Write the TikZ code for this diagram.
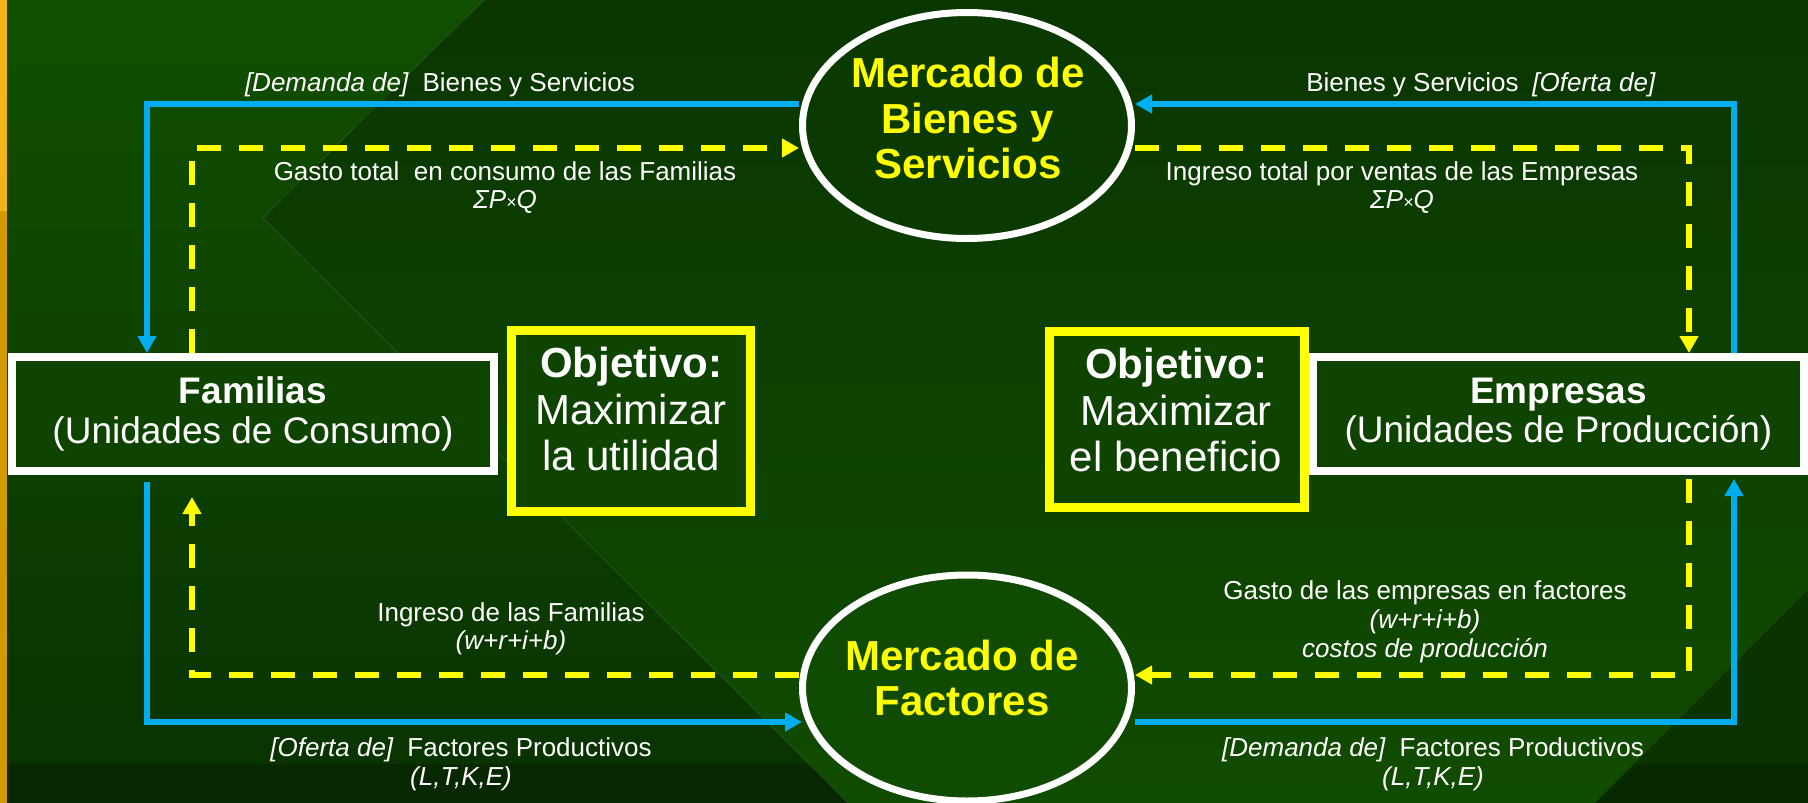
\documentclass[tikz,border=0pt]{standalone}
\usepackage{fontspec}
\setmainfont{Liberation Sans}
\usetikzlibrary{arrows.meta,shapes.geometric}
\definecolor{bgLtop}{HTML}{115000}
\definecolor{bgLbot}{HTML}{093200}
\definecolor{bgWtop}{HTML}{0A3600}
\definecolor{bgWbot}{HTML}{104C00}
\definecolor{bgT}{HTML}{0B3300}
\definecolor{barA}{HTML}{F2B416}
\definecolor{barB}{HTML}{D09A00}
\definecolor{cblue}{HTML}{00AEEF}
\definecolor{cyellow}{HTML}{FFFF00}
\definecolor{boxfill}{HTML}{0E4400}
\definecolor{topfill}{HTML}{0B3A00}
\definecolor{botfill}{HTML}{0F4B00}
\tikzset{
  bluearrow/.style={draw=cblue, line width=6pt, line join=miter, -{Triangle[length=17pt,width=18pt]}},
  ydasharrow/.style={draw=cyellow, line width=6.5pt, line join=miter, dash pattern=on 24pt off 18pt, -{Triangle[length=17pt,width=18pt]}},
  unitbox/.style={rectangle, draw=white, line width=8pt, fill=boxfill, inner sep=0pt, minimum height=114pt, text=white, align=center, font=\fontsize{37}{39.5}\selectfont},
  objbox/.style={rectangle, draw=cyellow, line width=9pt, fill=boxfill, inner sep=0pt},
  objtext/.style={text=white, align=center, inner sep=0pt, font=\fontsize{42}{46.5}\selectfont},
  market/.style={ellipse, draw=white, line width=7pt, inner sep=0pt, minimum width=329pt, minimum height=226pt},
  markettext/.style={text=cyellow, align=center, inner sep=0pt, font=\fontsize{42}{45.5}\selectfont\bfseries},
  lbl/.style={text=white, align=center, inner sep=0pt, font=\fontsize{26}{28.5}\selectfont},
}
\newcommand{\spq}{\textit{ΣP}{\fontsize{18}{20}\selectfont\textit{×}}\textit{Q}}
\begin{document}
\begin{tikzpicture}[x=1pt,y=-1pt]
\useasboundingbox (0,0) rectangle (1808,803);
% background
\shade[top color=bgLtop, bottom color=bgLbot] (0,0) -- (484,0) -- (263,218) -- (848,803) -- (0,803) -- cycle;
\shade[top color=bgWtop, bottom color=bgWbot] (484,0) -- (1808,0) -- (1808,803) -- (848,803) -- (263,218) -- cycle;
\fill[bgT] (1808,590) -- (1808,803) -- (1595,803) -- cycle;
\fill[black, opacity=0.2] (0,764) -- (809,764) -- (848,803) -- (0,803) -- cycle;
\fill[black, opacity=0.2] (1634,764) -- (1808,764) -- (1808,803) -- (1595,803) -- cycle;
\fill[barA] (0,0) rectangle (7,211);
\fill[barB] (0,211) rectangle (7,803);

% markets
\node[market, fill=topfill] (mbs) at (967,125.5) {};
\node[markettext] (mbstxt) at (968,118) {Mercado de\\Bienes y\\Servicios};
\node[market, fill=botfill] (mf) at (967,688) {};
\node[markettext] (mftxt) at (962,678) {Mercado de\\Factores};

% objective boxes
\node[objbox, minimum width=239pt, minimum height=181pt] (objL) at (631,421) {};
\node[objtext] (objLtxt) at (631,409) {\textbf{Objetivo:}\\Maximizar\\la utilidad};
\node[objbox, minimum width=255pt, minimum height=176pt] (objR) at (1177,419.5) {};
\node[objtext] (objRtxt) at (1176,410) {\textbf{Objetivo:}\\Maximizar\\el beneficio};

% unit boxes
\node[unitbox, minimum width=482pt] (fam) at (253,414) {\textbf{Familias}\\(Unidades de Consumo)};
\node[unitbox, minimum width=491pt] (emp) at (1558.5,414) {\textbf{Empresas}\\(Unidades de Producción)};

% corner coordinates
\coordinate (bTL) at (147,104);
\coordinate (yTL) at (192,148);
\coordinate (bTR) at (1734,104);
\coordinate (yTR) at (1689,148);
\coordinate (bBL) at (147,722);
\coordinate (yBL) at (192,675);
\coordinate (bBR) at (1734,722);
\coordinate (yBR) at (1689,675);

% connectors
\draw[bluearrow] (mbs.west |- bTL) -- (bTL) -- (bTL |- fam.north);
\draw[ydasharrow] (yTL |- fam.north) -- (yTL) -- (mbs.west |- yTL);
\draw[bluearrow] (bTR |- emp.north) -- (bTR) -- (mbs.east |- bTR);
\draw[ydasharrow] (mbs.east |- yTR) -- (yTR) -- (yTR |- emp.north);
\draw[bluearrow, shorten <=7pt, shorten >=-3pt] (bBL |- fam.south) -- (bBL) -- (mf.west |- bBL);
\draw[ydasharrow, shorten >=22pt] (mf.west |- yBL) -- (yBL) -- (yBL |- fam.south);
\draw[bluearrow, shorten >=4pt] (mf.east |- bBR) -- (bBR) -- (bBR |- emp.south);
\draw[ydasharrow, shorten <=4pt] (yBR |- emp.south) -- (yBR) -- (mf.east |- yBR);

% labels
\node[lbl] (l1) at (440,85) {\textit{[Demanda de]}\hspace{0.25em} Bienes y Servicios};
\node[lbl] (l2) at (1481,85) {Bienes y Servicios\hspace{0.25em} \textit{[Oferta de]}};
\node[lbl] (l3) at (505,187.5) {Gasto total\hspace{0.28em} en consumo de las Familias\\\spq};
\node[lbl] (l4) at (1402,187.5) {Ingreso total por ventas de las Empresas\\\spq};
\node[lbl] (l5) at (511,629) {Ingreso de las Familias\\\textit{(w+r+i+b)}};
\node[lbl, font=\fontsize{26}{29}\selectfont] (l6) at (1425,622) {Gasto de las empresas en factores\\\textit{(w+r+i+b)}\\\textit{costos de producción}};
\node[lbl] (l7) at (461,764.5) {\textit{[Oferta de]}\hspace{0.25em} Factores Productivos\\\textit{(L,T,K,E)}};
\node[lbl] (l8) at (1433,764.5) {\textit{[Demanda de]}\hspace{0.25em} Factores Productivos\\\textit{(L,T,K,E)}};
\end{tikzpicture}
\end{document}
